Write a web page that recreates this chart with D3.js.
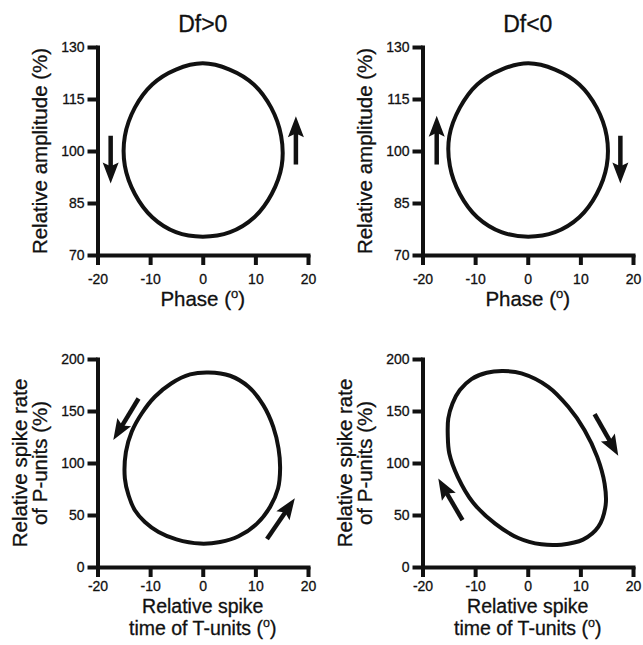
<!DOCTYPE html>
<html>
<head>
<meta charset="utf-8">
<script src="https://cdn.jsdelivr.net/npm/d3@7"></script>
<style>
body { margin: 0; background: #fff; }
svg text { font-family: "Liberation Sans", Arial, sans-serif; fill: #111; stroke: #111; stroke-width: 0.3px; }
</style>
</head>
<body>
<div id="chart"></div>
<script>
// tick values
var phaseTicks = [-20, -10, 0, 10, 20];
var ampTicks = [70, 85, 100, 115, 130];
var rateTicks = [0, 50, 100, 150, 200];

// Df>0 : phase (deg) vs relative amplitude (%)
var posPhase = [0, 5.1, 9.7, 13.0, 14.9, 15.0, 13.1, 9.8, 5.2, 0, -5.1, -9.6, -12.9, -14.8, -14.8, -12.9, -9.6, -5.1];
var posAmp = [125.3, 123.5, 119.2, 112.5, 104.3, 95.7, 87.6, 80.9, 76.6, 75.3, 76.6, 80.9, 87.6, 95.7, 104.3, 112.5, 119.2, 123.5];

// Df<0
var negPhase = [0.1, 5.2, 9.8, 13.1, 15.0, 15.0, 13.1, 9.8, 5.2, 0.1, -5.0, -9.6, -12.9, -14.8, -14.9, -12.9, -9.6, -5.0];
var negAmp = [125.3, 123.5, 119.2, 112.5, 104.3, 95.7, 87.6, 80.9, 76.6, 75.3, 76.6, 80.9, 87.6, 95.7, 104.3, 112.5, 119.2, 123.5];

// Df>0 : spike time of T-units vs spike rate of P-units
var posTime = [1.1, 5.2, 8.7, 11.5, 13.4, 14.4, 14.7, 14.3, 12.8, 10.3, 6.8, 3.3, -0.5, -5.0, -8.4, -11.0, -12.9, -14.1, -14.8, -14.6, -13.5, -11.6, -9.1, -6.0, -2.4];
var posRate = [187.1, 183.9, 173.3, 155.7, 134.8, 113.9, 94.7, 75.4, 57.8, 41.7, 29.5, 24.0, 22.5, 26.6, 33.7, 43.3, 54.6, 69.0, 85.1, 110.7, 130.0, 147.6, 163.7, 176.5, 185.2];

// Df<0
var negTime = [-4.7, -1.2, 3.9, 7.7, 10.8, 13.2, 14.6, 14.8, 13.4, 10.5, 6.4, 2.6, -1.8, -6.2, -10.4, -13.3, -14.9, -15.2, -15.1, -14.3, -12.9, -10.7, -7.8];
var negRate = [188.4, 186.2, 173.3, 154.0, 131.6, 105.9, 80.2, 59.4, 38.5, 26.3, 21.5, 21.8, 27.9, 41.7, 62.0, 86.7, 109.1, 126.8, 142.8, 157.3, 170.1, 180.7, 186.8];

// direction arrows, data coords: [x tail, y tail, x tip, y tip]
var posAmpArrows = [[-17.5, 104.4, -17.5, 90.6], [17.7, 96.1, 17.7, 110]];
var negAmpArrows = [[-17.3, 96.1, -17.3, 110.2], [17.6, 104.4, 17.6, 90.6]];
var posRateArrows = [[-12.2, 162, -17.0, 122], [12.2, 27, 17.5, 66]];
var negRateArrows = [[12.7, 147, 17.2, 107], [-12.4, 45, -17.0, 85]];

var W = 210.5, H = 208;

var panels = [
    {left: 97.5, top: 47, title: "Df>0", xs: posPhase, ys: posAmp, yDomain: [70, 130], yTicks: ampTicks, arrows: posAmpArrows, kind: "amp"},
    {left: 422.5, top: 47, title: "Df<0", xs: negPhase, ys: negAmp, yDomain: [70, 130], yTicks: ampTicks, arrows: negAmpArrows, kind: "amp"},
    {left: 97.5, top: 359, title: null, xs: posTime, ys: posRate, yDomain: [0, 200], yTicks: rateTicks, arrows: posRateArrows, kind: "rate"},
    {left: 422.5, top: 359, title: null, xs: negTime, ys: negRate, yDomain: [0, 200], yTicks: rateTicks, arrows: negRateArrows, kind: "rate"}
];

var svg = d3.select("#chart").append("svg")
    .attr("width", 643)
    .attr("height", 645);

panels.forEach(function(p){
    drawPanel(p);
});

function drawPanel(p){
    var g = svg.append("g").attr("transform", "translate(" + p.left + "," + p.top + ")");
    var x = d3.scaleLinear().domain([-20, 20]).range([0, W]);
    var y = d3.scaleLinear().domain(p.yDomain).range([H, 0]);

    // loop
    var line = d3.line()
        .x(function(d){ return x(d[0]); })
        .y(function(d){ return y(d[1]); })
        .curve(d3.curveCatmullRomClosed.alpha(0.5));
    g.append("path")
        .datum(d3.zip(p.xs, p.ys))
        .attr("d", line)
        .style("fill", "none")
        .style("stroke", "#111")
        .style("stroke-width", "4px");

    // axes
    var xPad = p.kind == "amp" ? 9 : 4;
    var xAxis = g.append("g")
        .attr("transform", "translate(0," + H + ")")
        .call(d3.axisBottom(x).tickValues(phaseTicks).tickSize(10).tickSizeOuter(0).tickPadding(xPad)
            .tickFormat(function(d){ return String(d); }));
    var yAxis = g.append("g")
        .call(d3.axisLeft(y).tickValues(p.yTicks).tickSize(10).tickSizeOuter(0).tickPadding(3)
            .tickFormat(function(d){ return String(d); }));
    [xAxis, yAxis].forEach(function(a){
        a.select(".domain").style("stroke", "#111").style("stroke-width", "4px").style("stroke-linecap", "square");
        a.selectAll(".tick line").style("stroke", "#111").style("stroke-width", "4px");
        a.selectAll(".tick text").style("font-size", "14px").style("fill", "#111").style("stroke-width", "0.3px");
    });

    // arrows
    p.arrows.forEach(function(a){
        drawArrow(g, x(a[0]), y(a[1]), x(a[2]), y(a[3]));
    });

    // title
    if (p.title) {
        g.append("text")
            .attr("x", W / 2)
            .attr("y", -15)
            .attr("text-anchor", "middle")
            .style("font-size", "23px")
            .text(p.title);
    }

    // axis labels
    if (p.kind == "amp") {
        var xl = g.append("text")
            .attr("x", W / 2)
            .attr("y", H + 51)
            .attr("text-anchor", "middle")
            .style("font-size", "20.5px");
        xl.append("tspan").text("Phase (");
        xl.append("tspan").style("font-size", "13px").attr("dy", -8).text("o");
        xl.append("tspan").attr("dy", 8).text(")");

        g.append("text")
            .attr("transform", "translate(-50.5," + (H / 2) + ") rotate(-90)")
            .attr("text-anchor", "middle")
            .style("font-size", "20.5px")
            .text("Relative amplitude (%)");
    } else {
        g.append("text")
            .attr("x", W / 2)
            .attr("y", H + 45.5)
            .attr("text-anchor", "middle")
            .style("font-size", "19.5px")
            .text("Relative spike");
        var xl2 = g.append("text")
            .attr("x", W / 2)
            .attr("y", H + 67.5)
            .attr("text-anchor", "middle")
            .style("font-size", "19.5px");
        xl2.append("tspan").text("time of T-units (");
        xl2.append("tspan").style("font-size", "12.5px").attr("dy", -8).text("o");
        xl2.append("tspan").attr("dy", 8).text(")");

        var yl = g.append("text")
            .attr("transform", "translate(0," + (H / 2) + ") rotate(-90)")
            .attr("text-anchor", "middle")
            .style("font-size", "20.5px");
        yl.append("tspan").attr("x", 0).attr("y", -71).text("Relative spike rate");
        yl.append("tspan").attr("x", 0).attr("y", -51).text("of P-units (%)");
    }
}

function drawArrow(g, x1, y1, x2, y2){
    var dx = x2 - x1, dy = y2 - y1;
    var len = Math.sqrt(dx * dx + dy * dy);
    var ux = dx / len, uy = dy / len;
    var nx = -uy, ny = ux;
    var hl = 21, hw = 8;
    var bx = x2 - ux * hl, by = y2 - uy * hl;
    g.append("line")
        .attr("x1", x1).attr("y1", y1)
        .attr("x2", x2 - ux * hl * 0.7).attr("y2", y2 - uy * hl * 0.7)
        .style("stroke", "#111")
        .style("stroke-width", "4.5px");
    var pts = [
        [x2, y2],
        [bx + nx * hw, by + ny * hw],
        [x2 - ux * hl * 0.82, y2 - uy * hl * 0.82],
        [bx - nx * hw, by - ny * hw]
    ];
    g.append("path")
        .attr("d", "M" + pts.map(function(q){ return q.join(","); }).join("L") + "Z")
        .style("fill", "#111");
}
</script>
</body>
</html>
